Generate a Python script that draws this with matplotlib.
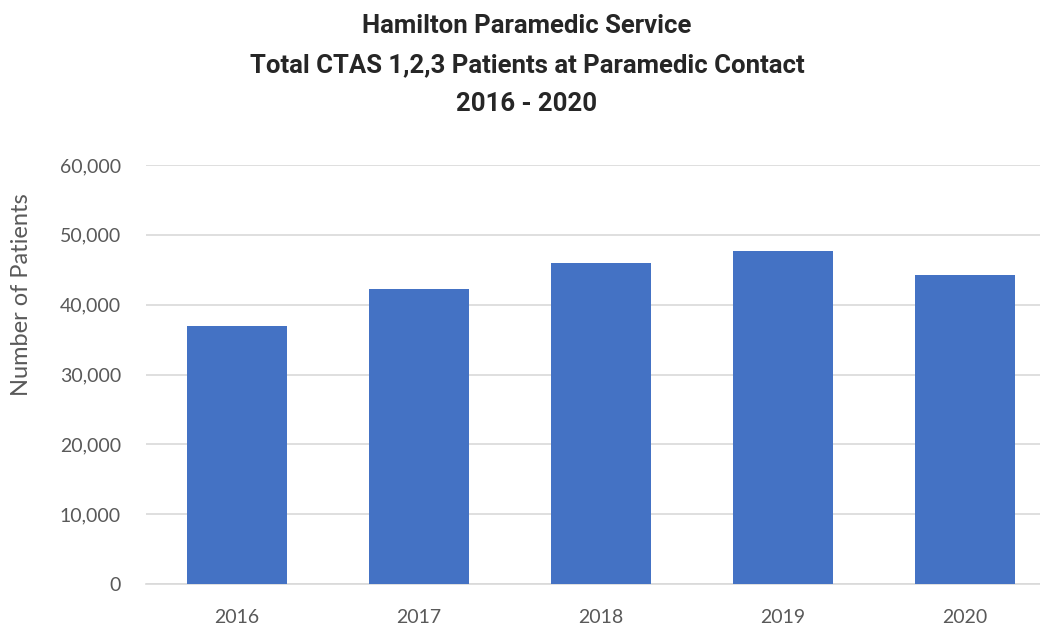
import matplotlib.pyplot as plt
from matplotlib.ticker import FuncFormatter

# data
years = ['2016', '2017', '2018', '2019', '2020']
patients = [37000, 42200, 45950, 47750, 44300]

fig = plt.figure(figsize=(10.4, 6.28), dpi=100)
ax = fig.add_axes([146/1040, 44/628, 910/1040, 419/628])

ax.bar(range(len(years)), patients, width=0.55, color='#4472C4', zorder=3)

ax.set_xlim(-0.5, len(years) - 0.5)
ax.set_ylim(0, 60000)
ax.set_yticks(range(0, 60001, 10000))
ax.yaxis.set_major_formatter(FuncFormatter(lambda v, p: f'{int(v):,}'))
ax.set_xticks(range(len(years)))
ax.set_xticklabels(years)

ax.grid(axis='y', color='#D9D9D9', linewidth=1.2, zorder=0)
for s in ['top', 'right', 'left']:
    ax.spines[s].set_visible(False)
ax.spines['bottom'].set_color('#D9D9D9')
ax.spines['bottom'].set_linewidth(1.2)
ax.tick_params(axis='both', length=0, labelsize=14, labelcolor='#595959')
ax.tick_params(axis='y', pad=18)
ax.tick_params(axis='x', pad=18)
for lab in ax.get_xticklabels() + ax.get_yticklabels():
    lab.set_fontfamily('Lato')

fig.text(22/1040, 1 - 295/628, 'Number of Patients', rotation=90, ha='center', va='center',
         fontsize=17, color='#595959', family='Lato')

# title
title_lines = ['Hamilton Paramedic Service',
               'Total CTAS 1,2,3 Patients at Paramedic Contact',
               '2016 - 2020']
for i, line in enumerate(title_lines):
    fig.text(527/1040, 1 - (26 + 39*i)/628, line, ha='center', va='center',
             fontsize=18.5, fontweight='bold', color='#262626', family='Roboto')

plt.savefig('out.png', dpi=100)
